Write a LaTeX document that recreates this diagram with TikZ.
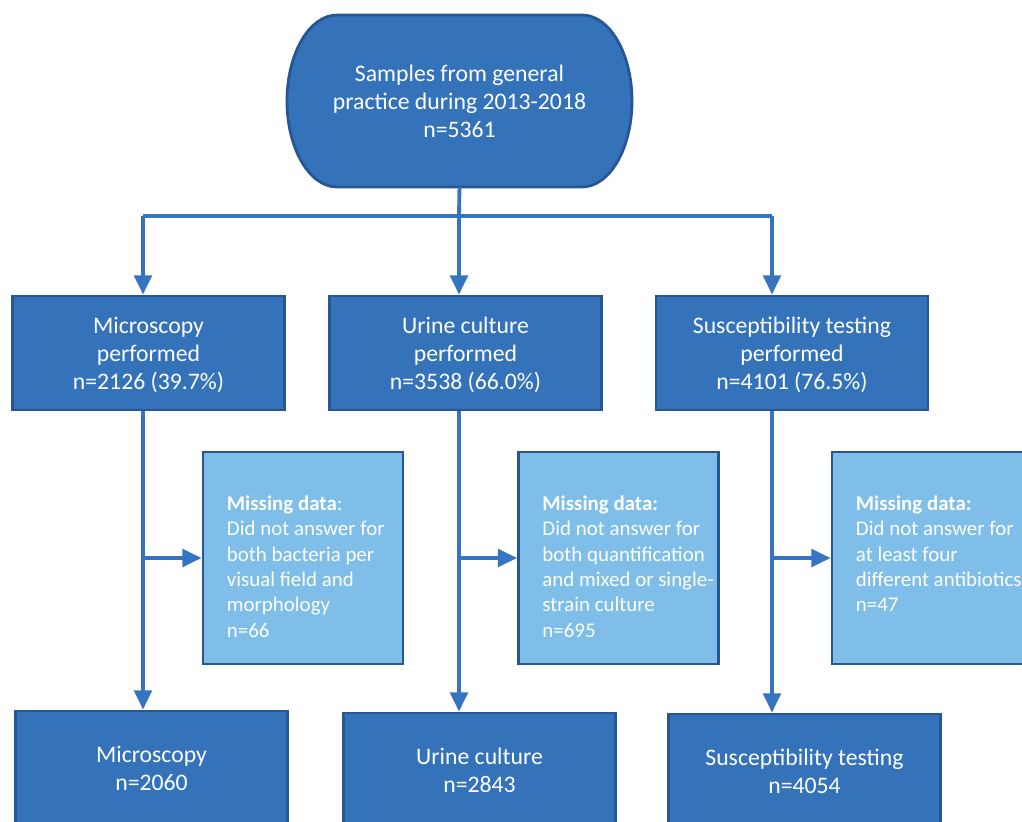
\documentclass[tikz,border=0pt]{standalone}
\usepackage{fontspec}
\setmainfont{Carlito}
\usetikzlibrary{arrows.meta}
\usetikzlibrary{positioning}

\definecolor{boxblue}{RGB}{52,114,186}
\definecolor{edgeblue}{RGB}{38,86,148}
\definecolor{missblue}{RGB}{126,190,232}
\definecolor{lineblue}{RGB}{52,116,192}

\begin{document}
\begin{tikzpicture}[
  x=0.02cm, y=-0.02cm,
  stepbox/.style={rectangle, draw=edgeblue, line width=1.6pt, fill=boxblue, text=white,
    minimum width=5.44cm, minimum height=2.28cm, align=center, inner sep=0pt,
    text depth=-1pt, font=\fontsize{13.5}{15.9}\selectfont},
  startshape/.style={draw=edgeblue, line width=1.6pt, fill=boxblue},
  starttext/.style={text=white, align=center, inner sep=0pt, font=\fontsize{13.5}{15.9}\selectfont},
  missbox/.style={rectangle, draw=edgeblue, line width=1.6pt, fill=missblue,
    minimum width=4cm, minimum height=4.24cm, inner sep=0pt},
  misstext/.style={anchor=north west, text=white, align=left, inner sep=0pt,
    font=\fontsize{11.9}{14.4}\selectfont},
  wire/.style={draw=lineblue, line width=2.2pt},
  flow/.style={wire, -{Triangle[length=11pt, width=10pt]}},
]
\useasboundingbox (0,0) rectangle (1022,822);
\clip (0,0) rectangle (1022,822);

  % Start
  \draw[startshape] (337,15) -- (582,15)
    arc[start angle=90, end angle=-90, x radius=1cm, y radius=1.72cm]
    -- (337,187)
    arc[start angle=270, end angle=90, x radius=1cm, y radius=1.72cm] -- cycle;
  \node[starttext] (start) at (459.5,101) {Samples from general\\practice during 2013-2018\\n=5361};

  % Nodes
  \node[stepbox] (p1) at (148.5,353) {Microscopy\\performed\\n=2126 (39.7\%)};
  \node[stepbox] (p2) at (465.5,353) {Urine culture\\performed\\n=3538 (66.0\%)};
  \node[stepbox] (p3) at (792,353)   {Susceptibility testing\\performed\\n=4101 (76.5\%)};

  \node[missbox] (m1) at (303,558)   {};
  \node[missbox] (m2) at (618.5,558) {};
  \node[missbox] (m3) at (932,558)   {};

  \node[misstext] (m1t) at ([shift={(25,45)}]m1.north west)
    {\textbf{Missing data}:\\Did not answer for\\both bacteria per\\visual field and\\morphology\\n=66};
  \node[misstext] (m2t) at ([shift={(25,45)}]m2.north west)
    {\textbf{Missing data:}\\Did not answer for\\both quantification\\and mixed or single-\\strain culture\\n=695};
  \node[misstext] (m3t) at ([shift={(25,45)}]m3.north west)
    {\textbf{Missing data:}\\Did not answer for\\at least four\\different antibiotics\\n=47};

  \node[stepbox] (f1) at (151.5,768) {Microscopy\\n=2060};
  \node[stepbox] (f2) at (479.5,770) {Urine culture\\n=2843};
  \node[stepbox] (f3) at (804.5,771) {Susceptibility testing\\n=4054};

  % Edges
  \coordinate (b1) at (143,216);
  \coordinate (b2) at (459,216);
  \coordinate (b3) at (772,216);
  \draw[wire] (b1) -- (b3);
  \draw[wire] (start |- 0,187) -- (b2);
  \draw[flow] (b1) -- (b1 |- p1.north);
  \draw[flow] (b2) -- (b2 |- p2.north);
  \draw[flow] (b3) -- (b3 |- p3.north);

  \draw[flow] (b1 |- p1.south) -- (b1 |- f1.north);
  \draw[flow] (b2 |- p2.south) -- (b2 |- f2.north);
  \draw[flow] (b3 |- p3.south) -- (b3 |- f3.north);

  \draw[flow] (b1 |- m1.west) -- (m1.west);
  \draw[flow] (b2 |- m2.west) -- (m2.west);
  \draw[flow] (b3 |- m3.west) -- (m3.west);
\end{tikzpicture}
\end{document}
